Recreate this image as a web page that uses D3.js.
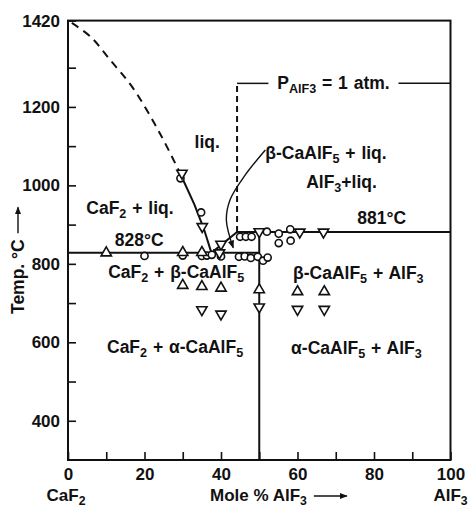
<!DOCTYPE html>
<html>
<head>
<meta charset="utf-8">
<script src="https://cdn.jsdelivr.net/npm/d3@7"></script>
<style>
  body { margin: 0; background: #fff; }
  text { font-family: "Liberation Sans", Arial, sans-serif; font-weight: bold; fill: #111; }
</style>
</head>
<body>
<div id="chart"></div>
<script>
// axis ticks
var xTicks = [10, 20, 30, 40, 50, 60, 70, 80, 90];
var xLabels = [0, 20, 40, 60, 80, 100];
var yTicks = [400, 500, 600, 700, 800, 900, 1000, 1100, 1200, 1300];
var yLabels = [400, 600, 800, 1000, 1200, 1420];

// phase boundaries [mole % AlF3, temp °C]
var liquidusDashed = [[1, 1414], [6, 1378], [11, 1320], [17, 1248], [24, 1133], [29.3, 1031]];
var liquidusSolid = [[29.3, 1031], [33, 952], [35.5, 890], [37.5, 828]];
var liquidusBeta = [[37.5, 828], [44.2, 881]];
var eutecticLine = [[0, 828], [50, 828]];
var peritecticLine = [[44.2, 881], [100, 881]];
var compoundLine = [[50, 881], [50, 300]];
var pressureDashed = [[44.2, 881], [44.2, 1260]];
var pressureLeft = [[44.2, 1260], [52.4, 1260]];
var pressureRight = [[86.4, 1260], [100, 1260]];
var pointerCurve = [[51.6, 1090], [46.3, 1026], [42.4, 964], [41.4, 912], [43.2, 841]];

// measured points
var circles = [[29.4, 1018], [34.8, 931], [20, 820], [30, 821], [35, 820], [36.3, 821], [37.6, 823], [40, 819],
  [44.7, 818], [46.2, 819], [47.8, 815], [49.6, 818], [51, 808], [52.2, 816],
  [45, 869], [46.5, 869], [48, 869], [52, 882], [55.1, 877], [58.1, 888], [55.1, 853], [58.2, 859]];
var upTriangles = [[10, 828], [30, 829], [35, 829], [30, 745], [35, 742], [40, 738], [50, 734], [60, 729], [67, 729]];
var downTriangles = [[29.8, 1031], [35.1, 895], [40, 850], [39.6, 828], [50, 882], [60.6, 881], [66.8, 881],
  [35, 683], [40, 672], [50, 690], [60, 684], [67, 684]];

// region labels: text ("_{..}" = subscript), x, t, anchor
var labels = [
  ["liq.", 36.4, 1111, "middle"],
  ["CaF_{2} + liq.", 16.2, 943, "middle"],
  ["828°C", 18.6, 861, "middle"],
  ["β-CaAlF_{5} + liq.", 51.6, 1083, "start"],
  ["AlF_{3}+liq.", 71.5, 1009, "middle"],
  ["881°C", 82, 917, "middle"],
  ["CaF_{2} + β-CaAlF_{5}", 10.5, 779, "start"],
  ["β-CaAlF_{5} + AlF_{3}", 75.9, 777, "middle"],
  ["CaF_{2} + α-CaAlF_{5}", 10.2, 588, "start"],
  ["α-CaAlF_{5} + AlF_{3}", 75.4, 586, "middle"],
  ["P_{AlF3} = 1 atm.", 69.4, 1261, "middle"]
];

var width = 471, height = 508;
var fs = 17.5;
var x = d3.scaleLinear().domain([0, 100]).range([68, 450.5]);
var y = d3.scaleLinear().domain([300, 1420]).range([460, 20.6]);

var svg = d3.select("#chart").append("svg")
  .attr("width", width).attr("height", height);

var defs = svg.append("defs");
defs.append("marker").attr("id", "head")
  .attr("viewBox", "0 0 10 10").attr("refX", 9).attr("refY", 5)
  .attr("markerWidth", 8).attr("markerHeight", 8).attr("markerUnits", "userSpaceOnUse")
  .attr("orient", "auto")
  .append("path").attr("d", "M0,1 L10,5 L0,9 Z").attr("fill", "#111");

// frame
svg.append("rect")
  .attr("x", x(0)).attr("y", y(1420))
  .attr("width", x(100) - x(0)).attr("height", y(300) - y(1420))
  .attr("fill", "none").attr("stroke", "#111").attr("stroke-width", 2);

// axes, ticks pointing inward
var xAxis = g => g
  .attr("transform", `translate(0,${y(300)})`)
  .call(d3.axisBottom(x).tickValues(xTicks.concat([0, 100])).tickSizeInner(-8).tickSizeOuter(0).tickPadding(8)
    .tickFormat(d => xLabels.indexOf(d) >= 0 ? d : ""))
  .call(g => g.select(".domain").remove());

var yAxis = g => g
  .attr("transform", `translate(${x(0)},0)`)
  .call(d3.axisLeft(y).tickValues(yTicks.concat([1420])).tickSizeInner(-8).tickSizeOuter(0).tickPadding(8)
    .tickFormat(d => yLabels.indexOf(d) >= 0 ? d : ""))
  .call(g => g.select(".domain").remove());

svg.append("g").call(xAxis);
svg.append("g").call(yAxis);
svg.selectAll(".tick line").attr("stroke", "#111").attr("stroke-width", 1.6);
svg.selectAll(".tick text").attr("font-size", 17).attr("font-family", null).attr("fill", "#111");

// phase lines
var line = d3.line().x(d => x(d[0])).y(d => y(d[1]));
var curve = d3.line().x(d => x(d[0])).y(d => y(d[1])).curve(d3.curveCatmullRom);

function drawLine(data, dashed, gen) {
  return svg.append("path")
    .datum(data)
    .attr("fill", "none")
    .attr("stroke", "#111")
    .attr("stroke-width", 2)
    .attr("stroke-dasharray", dashed ? "8,6" : null)
    .attr("d", gen || line);
}

drawLine(liquidusDashed, true, curve);
drawLine(liquidusSolid, false);
drawLine(liquidusBeta, false);
drawLine(eutecticLine, false);
drawLine(peritecticLine, false);
drawLine(compoundLine, false);
drawLine(pressureDashed, true).attr("stroke-dasharray", "6,4");
drawLine(pressureLeft, false).attr("stroke-width", 1.5);
drawLine(pressureRight, false).attr("stroke-width", 1.5);
drawLine(pointerCurve, false, curve).attr("stroke-width", 1.4).attr("marker-end", "url(#head)");

// points
function drawSymbols(data, type, rot) {
  svg.append("g").selectAll("path")
    .data(data)
    .join("path")
    .attr("transform", d => `translate(${x(d[0])},${y(d[1])}) rotate(${rot})`)
    .attr("d", d3.symbol().type(type).size(type === d3.symbolCircle ? 40 : 46))
    .attr("fill", "#fff")
    .attr("stroke", "#111")
    .attr("stroke-width", 1.6);
}
drawSymbols(circles, d3.symbolCircle, 0);
drawSymbols(upTriangles, d3.symbolTriangle, 0);
drawSymbols(downTriangles, d3.symbolTriangle, 180);

// text with subscripts
function richText(sel, str, size) {
  var parts = str.split(/(_\{[^}]*\})/).filter(s => s.length);
  var shift = 0;
  parts.forEach(function (p) {
    var ts = sel.append("tspan");
    if (p[0] === "_") {
      ts.attr("font-size", size * 0.72).attr("dy", 4 - shift).text(p.slice(2, -1));
      shift = 4;
    } else {
      ts.attr("font-size", size).text(p);
      if (shift) ts.attr("dy", -shift);
      shift = 0;
    }
  });
}

labels.forEach(function (l) {
  var t = svg.append("text")
    .attr("x", x(l[1])).attr("y", y(l[2]) + 6)
    .attr("text-anchor", l[3])
    .attr("font-size", fs)
    .attr("word-spacing", 1);
  richText(t, l[0], fs);
});

// axis titles
var by = 501, bfs = 17;
var xt = svg.append("text").attr("x", 210).attr("y", by).attr("font-size", bfs);
richText(xt, "Mole %  AlF_{3}", bfs);
var xw = xt.node().getComputedTextLength();
svg.append("line")
  .attr("x1", 210 + xw + 7).attr("x2", 210 + xw + 40)
  .attr("y1", by - 5).attr("y2", by - 5)
  .attr("stroke", "#111").attr("stroke-width", 1.4).attr("marker-end", "url(#head)");

var cl = svg.append("text").attr("x", x(0) - 2).attr("y", by).attr("text-anchor", "middle").attr("font-size", bfs);
richText(cl, "CaF_{2}", bfs);
var cr = svg.append("text").attr("x", x(100)).attr("y", by).attr("text-anchor", "middle").attr("font-size", bfs);
richText(cr, "AlF_{3}", bfs);

var yt = svg.append("text")
  .attr("transform", "translate(24,314) rotate(-90)")
  .attr("font-size", fs)
  .text("Temp. °C");
var yw = yt.node().getComputedTextLength();
svg.append("line")
  .attr("x1", 18).attr("x2", 18)
  .attr("y1", 314 - yw - 6).attr("y2", 314 - yw - 32)
  .attr("stroke", "#111").attr("stroke-width", 1.4).attr("marker-end", "url(#head)");
</script>
</body>
</html>
